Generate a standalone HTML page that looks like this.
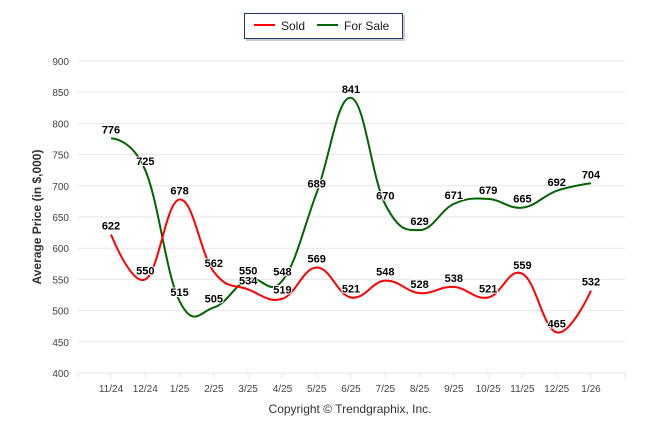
<!DOCTYPE html>
<html><head><meta charset="utf-8"><style>
body{margin:0;background:#fff;}
svg{display:block;font-family:"Liberation Sans",Arial,sans-serif;}
</style></head><body>
<svg id="chart" width="646" height="434" viewBox="0 0 646 434">
  <g>
    <rect x="246" y="15" width="159" height="26" fill="#999" opacity="0.5"/>
    <rect x="244.5" y="13.5" width="158" height="25" fill="#fff" stroke="#1f3864" stroke-width="1"/>
    <g>
      <line x1="254" y1="25" x2="275" y2="25" stroke="#ff0000" stroke-width="2"/>
      <text x="281" y="30" font-size="12" fill="#222">Sold</text>
    </g>
    <g>
      <line x1="317" y1="25" x2="338" y2="25" stroke="#006400" stroke-width="2"/>
      <text x="344" y="30" font-size="12" fill="#222">For Sale</text>
    </g>
  </g>
  <g id="grid"></g>
  <g id="yaxis"></g>
  <g id="xaxis"></g>
  <text x="41" y="217" font-size="12" font-weight="bold" fill="#333" text-anchor="middle" transform="rotate(-90 41 217)">Average Price (in $,000)</text>
  <g id="series"></g>
  <g id="labels"></g>
  <text x="350" y="413" font-size="12" fill="#333" text-anchor="middle">Copyright © Trendgraphix, Inc.</text>
</svg>
<script>
const categories=["11/24","12/24","1/25","2/25","3/25","4/25","5/25","6/25","7/25","8/25","9/25","10/25","11/25","12/25","1/26"];
const soldValues=[622,550,678,562,534,519,569,521,548,528,538,521,559,465,532];
const forSaleValues=[776,725,515,505,550,548,689,841,670,629,671,679,665,692,704];
const yTicks=[400,450,500,550,600,650,700,750,800,850,900];

const NS="http://www.w3.org/2000/svg";
const plotL=78,plotR=625,yTop=61,yBot=373,yMin=400,yMax=900;
const x0=111,x1=591;
function xs(i){return x0+(x1-x0)*i/(categories.length-1);}
function ys(v){return yBot-(v-yMin)/(yMax-yMin)*(yBot-yTop);}
function mk(tag,attrs,parent){const e=document.createElementNS(NS,tag);for(const k in attrs)e.setAttribute(k,attrs[k]);parent.appendChild(e);return e;}

const grid=document.getElementById('grid'),yax=document.getElementById('yaxis'),xax=document.getElementById('xaxis');
yTicks.forEach(t=>{
  const l=mk('line',{x1:plotL,x2:plotR,y1:ys(t),y2:ys(t),stroke:'#e6e6e6','stroke-width':1},grid);
  
  
  const tx=mk('text',{x:69,y:ys(t)+4,'font-size':10,fill:'#444','text-anchor':'end'},yax);
  tx.textContent=t;
  
  
});
mk('line',{x1:plotL,x2:plotL,y1:yBot,y2:yBot+5,stroke:'#e6e6e6'},xax);
mk('line',{x1:plotR,x2:plotR,y1:yBot,y2:yBot+5,stroke:'#e6e6e6'},xax);
categories.forEach((c,i)=>{
  mk('line',{x1:xs(i),x2:xs(i),y1:yBot,y2:yBot+5,stroke:'#e6e6e6'},xax);
  const tx=mk('text',{x:xs(i),y:392,'font-size':10,fill:'#444','text-anchor':'middle'},xax);
  tx.textContent=c;
  
  
});

function splinePath(vals){
  const pts=vals.map((v,i)=>[xs(i),ys(v)]);
  const L=[],R=[];
  for(let i=0;i<pts.length;i++){
    const [x,y]=pts[i];
    if(i===0||i===pts.length-1){L.push([x,y]);R.push([x,y]);continue;}
    const [px,py]=pts[i-1],[nx,ny]=pts[i+1];
    const slope=(ny-py)/(nx-px);
    const dl=(x-px)*0.4,dr=(nx-x)*0.4;
    L.push([x-dl,y-slope*dl]);R.push([x+dr,y+slope*dr]);
  }
  let d='M'+pts[0][0]+' '+pts[0][1];
  for(let i=1;i<pts.length;i++){d+=' C'+R[i-1][0]+' '+R[i-1][1]+' '+L[i][0]+' '+L[i][1]+' '+pts[i][0]+' '+pts[i][1];}
  return d;
}
const ser=document.getElementById('series'),lab=document.getElementById('labels');
const fs=mk('path',{d:splinePath(forSaleValues),fill:'none',stroke:'#006400','stroke-width':2},ser);


const sd=mk('path',{d:splinePath(soldValues),fill:'none',stroke:'#ff0000','stroke-width':2},ser);


function labels(vals,name){
  vals.forEach((v,i)=>{
    const t=mk('text',{x:xs(i),y:ys(v)-5,'font-size':11,'font-weight':'bold',fill:'#000','text-anchor':'middle',stroke:'#fff','stroke-width':2,'paint-order':'stroke'},lab);
    t.textContent=v;
    
    
  });
}
labels(forSaleValues,'for-sale');
labels(soldValues,'sold');
</script>
</body></html>
